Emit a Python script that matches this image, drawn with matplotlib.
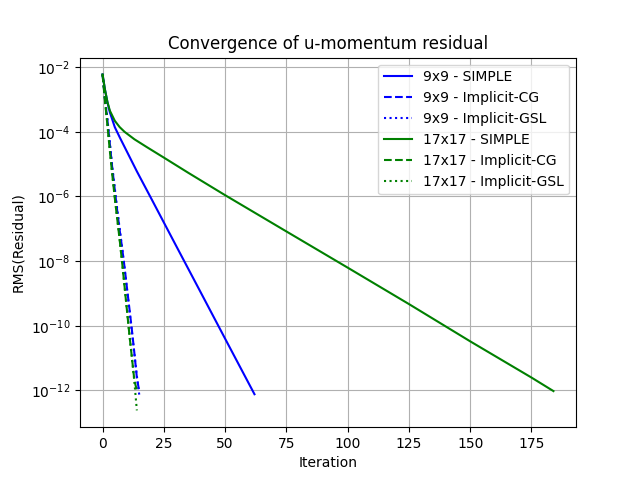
import matplotlib
matplotlib.use("Agg")
import matplotlib.pyplot as plt

# 9x9 grid
it_9_simple = [0, 1, 2, 3, 5, 7, 9, 11, 14, 20, 30, 40, 50, 62]
res_9_simple = [6.0e-3, 2.0e-3, 8.3e-4, 4.0e-4, 1.4e-4, 6.8e-5, 3.4e-5, 1.7e-5,
                6.0e-6, 8.3e-7, 3.0e-8, 1.1e-9, 4.0e-11, 7.6e-13]
res_9_cg = [6.0e-3, 1.0e-3, 2.2e-4, 4.0e-5, 7.1e-6, 1.6e-6, 3.5e-7, 8.9e-8,
            2.5e-8, 6.3e-9, 1.4e-9, 3.2e-10, 7.1e-11, 1.4e-11, 2.5e-12, 8.9e-13]
res_9_gsl = [6.0e-3, 1.1e-3, 2.5e-4, 4.5e-5, 7.9e-6, 1.8e-6, 4.0e-7, 1.0e-7,
             2.5e-8, 5.6e-9, 1.3e-9, 2.8e-10, 6.3e-11, 1.3e-11, 2.8e-12, 7.1e-13]

# 17x17 grid
it_17_simple = [0, 1, 2, 3, 5, 7, 9, 13, 18, 25, 35, 50, 75, 100, 125, 150, 175, 184]
res_17_simple = [6.0e-3, 2.0e-3, 8.3e-4, 4.5e-4, 2.2e-4, 1.4e-4, 1.0e-4, 5.9e-5,
                 3.4e-5, 1.6e-5, 5.4e-6, 1.1e-6, 8.3e-8, 6.3e-9, 4.7e-10, 3.3e-11,
                 2.5e-12, 9.5e-13]
res_17_cg = [6.0e-3, 8.9e-4, 1.6e-4, 2.5e-5, 4.5e-6, 8.9e-7, 2.0e-7, 4.5e-8,
             8.9e-9, 1.6e-9, 2.8e-10, 5.0e-11, 1.0e-11, 2.0e-12, 1.0e-12]
res_17_gsl = [6.0e-3, 1.0e-3, 1.7e-4, 2.6e-5, 4.7e-6, 9.3e-7, 2.1e-7, 4.5e-8,
              8.9e-9, 1.6e-9, 2.8e-10, 5.0e-11, 1.0e-11, 1.8e-12, 2.4e-13]

fig, ax = plt.subplots(figsize=(6.4, 4.8), dpi=100)
ax.semilogy(it_9_simple, res_9_simple, 'b-', label='9x9 - SIMPLE')
ax.semilogy(range(len(res_9_cg)), res_9_cg, 'b--', label='9x9 - Implicit-CG')
ax.semilogy(range(len(res_9_gsl)), res_9_gsl, 'b:', label='9x9 - Implicit-GSL')
ax.semilogy(it_17_simple, res_17_simple, 'g-', label='17x17 - SIMPLE')
ax.semilogy(range(len(res_17_cg)), res_17_cg, 'g--', label='17x17 - Implicit-CG')
ax.semilogy(range(len(res_17_gsl)), res_17_gsl, 'g:', label='17x17 - Implicit-GSL')

ax.set_title('Convergence of u-momentum residual')
ax.set_xlabel('Iteration')
ax.set_ylabel('RMS(Residual)')
ax.grid(True)
ax.legend(loc='upper right')
fig.savefig('out.png', dpi=100)
